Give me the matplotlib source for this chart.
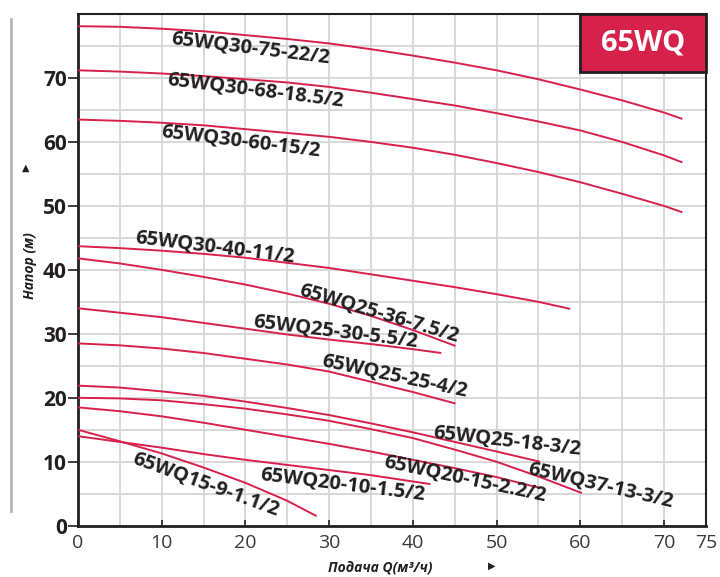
import matplotlib.pyplot as plt
from matplotlib.patches import Rectangle
from matplotlib.lines import Line2D

# pump curves: flow Q (m3/h) -> head H (m)
q_30_75 = [0, 5, 10, 15, 20, 25, 30, 35, 40, 45, 50, 55, 60, 65, 70, 72.2]
h_30_75 = [78.1, 78.0, 77.7, 77.3, 76.7, 76.1, 75.4, 74.5, 73.5, 72.4, 71.2,
           69.8, 68.2, 66.5, 64.6, 63.6]
q_30_68 = [0, 5, 10, 15, 20, 25, 30, 35, 40, 45, 50, 55, 60, 65, 70, 72.2]
h_30_68 = [71.2, 71.0, 70.7, 70.3, 69.8, 69.3, 68.6, 67.7, 66.7, 65.7, 64.5,
           63.2, 61.8, 60.0, 57.9, 56.8]
q_30_60 = [0, 5, 10, 15, 20, 25, 30, 35, 40, 45, 50, 55, 60, 65, 70, 72.2]
h_30_60 = [63.5, 63.3, 63.0, 62.6, 62.0, 61.4, 60.8, 60.0, 59.1, 58.0, 56.7,
           55.3, 53.7, 51.9, 50.0, 49.0]
q_30_40 = [0, 5, 10, 15, 20, 25, 30, 35, 40, 45, 50, 55, 58.8]
h_30_40 = [43.7, 43.4, 43.0, 42.5, 41.9, 41.1, 40.3, 39.3, 38.3, 37.3, 36.2,
           35.0, 33.9]
q_25_36 = [0, 5, 10, 15, 20, 25, 30, 35, 40, 45.1]
h_25_36 = [41.8, 41.0, 40.0, 38.9, 37.7, 36.3, 34.7, 32.8, 30.6, 28.1]
q_25_30 = [0, 5, 10, 15, 20, 25, 30, 35, 40, 43.4]
h_25_30 = [34.0, 33.3, 32.6, 31.7, 30.8, 29.9, 29.1, 28.4, 27.6, 27.0]
q_25_25 = [0, 5, 10, 15, 20, 25, 30, 35, 40, 45.1]
h_25_25 = [28.5, 28.2, 27.7, 27.0, 26.1, 25.2, 24.1, 22.5, 20.9, 19.1]
q_25_18 = [0, 5, 10, 15, 20, 25, 30, 35, 40, 45, 50, 55.2]
h_25_18 = [21.9, 21.6, 21.0, 20.3, 19.4, 18.4, 17.3, 16.0, 14.6, 13.1, 11.6,
           10.0]
q_37_13 = [0, 5, 10, 15, 20, 25, 30, 35, 40, 45, 50, 55, 60.2]
h_37_13 = [20.0, 19.9, 19.6, 19.0, 18.3, 17.4, 16.4, 15.1, 13.7, 11.9, 10.0,
           7.7, 5.1]
q_20_15 = [0, 5, 10, 15, 20, 25, 30, 35, 40, 45, 50, 55.2]
h_20_15 = [18.5, 17.9, 17.1, 16.1, 15.0, 13.9, 12.8, 11.6, 10.3, 9.0, 7.6, 5.9]
q_20_10 = [0, 5, 10, 15, 20, 25, 30, 35, 42.1]
h_20_10 = [14.0, 13.1, 12.2, 11.2, 10.3, 9.5, 8.7, 7.9, 6.5]
q_15_9 = [0, 5, 10, 15, 20, 25, 28.5]
h_15_9 = [15.0, 13.2, 11.3, 9.1, 6.7, 3.9, 1.5]

curves = [
    (q_30_75, h_30_75), (q_30_68, h_30_68), (q_30_60, h_30_60),
    (q_30_40, h_30_40), (q_25_36, h_25_36), (q_25_30, h_25_30),
    (q_25_25, h_25_25), (q_25_18, h_25_18), (q_37_13, h_37_13),
    (q_20_15, h_20_15), (q_20_10, h_20_10), (q_15_9, h_15_9),
]

# model names with label anchor (Q, H) and rotation
names = ["65WQ30-75-22/2", "65WQ30-68-18.5/2", "65WQ30-60-15/2",
         "65WQ30-40-11/2", "65WQ25-36-7.5/2", "65WQ25-30-5.5/2",
         "65WQ25-25-4/2", "65WQ25-18-3/2", "65WQ37-13-3/2",
         "65WQ20-15-2.2/2", "65WQ20-10-1.5/2", "65WQ15-9-1.1/2"]
label_q = [20.6, 21.2, 19.4, 16.4, 35.9, 30.8, 37.8, 51.3, 62.4, 46.2, 31.6, 15.3]
label_h = [74.6, 68.0, 60.0, 43.5, 33.1, 30.2, 23.3, 13.1, 6.2, 7.3, 6.3, 6.4]
label_rot = [-7, -7, -7, -7, -16.5, -7, -12, -6.5, -13, -12, -7, -20]

x_ticks = [0, 10, 20, 30, 40, 50, 60, 70, 75]
y_ticks = [0, 10, 20, 30, 40, 50, 60, 70]

red = "#d7214b"
dark = "#231f20"
font = "Open Sans"

fig = plt.figure(figsize=(7.2, 5.77), dpi=100)
ax = fig.add_axes([0.1083, 0.0889, 0.872, 0.8868])

for q, h in curves:
    ax.plot(q, h, color=red, lw=1.4, solid_capstyle="butt", zorder=3)

for name, lq, lh, rot in zip(names, label_q, label_h, label_rot):
    ax.text(lq, lh, name, rotation=rot, rotation_mode="anchor",
            ha="center", va="center", fontsize=14.5, fontweight="bold",
            family=font, color=dark, zorder=4)

ax.set_xlim(0, 75)
ax.set_ylim(0, 80)
ax.set_xticks(range(0, 76, 5), minor=True)
ax.set_yticks(range(0, 81, 5), minor=True)
ax.grid(which="both", color="#d5d5d5", lw=1.3, zorder=0)
ax.set_axisbelow(True)

ax.set_xticks(x_ticks)
ax.set_xticklabels([str(t) for t in x_ticks], fontsize=14, family=font,
                   color="#3a3a3a")
ax.set_yticks(y_ticks)
ax.set_yticklabels([str(t) for t in y_ticks], fontsize=15, family=font,
                   fontweight="bold", color=dark)
ax.tick_params(axis="x", which="major", direction="in", length=4,
               width=1.2, color=dark, pad=6)
ax.tick_params(axis="y", which="major", direction="out", length=7,
               width=1.2, color=dark, pad=1)
ax.tick_params(which="minor", length=0)

for side in ["left", "bottom"]:
    ax.spines[side].set_color(dark)
    ax.spines[side].set_linewidth(2)
for side in ["top", "right"]:
    ax.spines[side].set_color(dark)
    ax.spines[side].set_linewidth(1.5)

# model badge
ax.add_patch(Rectangle((0.80, 0.887), 0.20, 0.113, transform=ax.transAxes,
                       facecolor="#d6224a", edgecolor=dark, lw=2,
                       zorder=5, clip_on=False))
ax.text(0.90, 0.943, "65WQ", transform=ax.transAxes, ha="center",
        va="center", fontsize=21, fontweight="bold", family=font,
        color="white", zorder=6)

# axis titles with arrows
fig.add_artist(Line2D([0.0153, 0.0153], [0.114, 0.967], color="#b5b5b5",
                      lw=2))
fig.text(0.042, 0.54, "Напор (м)", rotation=90, ha="center", va="center",
         fontsize=10, fontweight="bold", fontstyle="italic", family=font,
         color=dark)
fig.text(0.036, 0.709, "▲", ha="center", va="center", fontsize=7,
         color=dark, family="DejaVu Sans")
fig.text(0.528, 0.0156, "Подача Q(м³/ч)", ha="center", va="center",
         fontsize=10, fontweight="bold", fontstyle="italic", family=font,
         color=dark)
fig.text(0.683, 0.019, "▶", ha="center", va="center", fontsize=7,
         color=dark, family="DejaVu Sans")

fig.savefig("out.png", dpi=100)
